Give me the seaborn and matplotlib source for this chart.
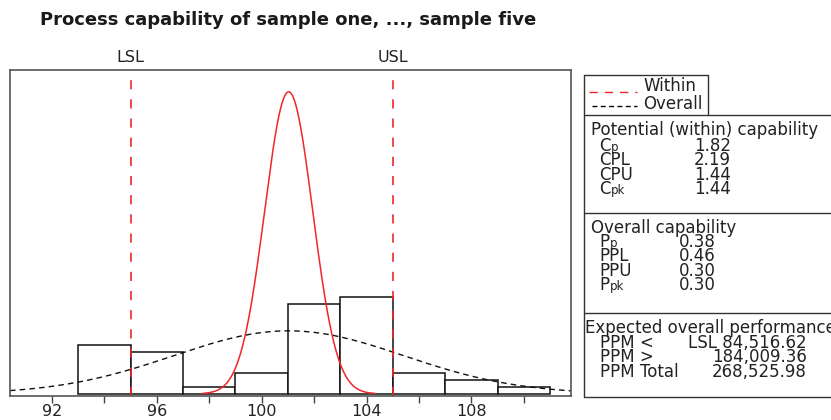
import numpy as np
import pandas as pd
import matplotlib
matplotlib.use("Agg")
import matplotlib.pyplot as plt
from matplotlib.lines import Line2D
import seaborn as sns

# ---- data ----
bin_edges = [93, 95, 97, 99, 101, 103, 105, 107, 109, 111]
bin_mids = [94, 96, 98, 100, 102, 104, 106, 108, 110]
counts = [7, 6, 1, 3, 13, 14, 3, 2, 1]
LSL, USL = 95, 105
mean_proc = 101.03
sigma_within = 0.916
sigma_overall = 4.386
x_ticks_major = [92, 96, 100, 104, 108]
x_ticks_minor = [94, 98, 102, 106, 110]

within_rows = [("C", "p", "1.82"), ("CPL", "", "2.19"), ("CPU", "", "1.44"), ("C", "pk", "1.44")]
overall_rows = [("P", "p", "0.38"), ("PPL", "", "0.46"), ("PPU", "", "0.30"), ("P", "pk", "0.30")]
ppm_rows = [("PPM <", "LSL 84,516.62"), ("PPM >", "184,009.36"), ("PPM Total", "268,525.98")]

sns.set_theme(style="white")
plt.rcParams['font.family'] = ['DejaVu Sans']

RED = "#f0262a"
TXT = "#222222"
W, H = 831, 420
fig = plt.figure(figsize=(W / 100, H / 100), dpi=100)
ax = fig.add_axes([10 / W, 1 - 396 / H, (571 - 10) / W, (396 - 70) / H])

hist_df = pd.DataFrame({"x": bin_mids, "w": counts})
sns.histplot(data=hist_df, x="x", weights="w", bins=bin_edges, stat="density",
             color="white", edgecolor="#111111", linewidth=1.1, alpha=1.0, ax=ax)

xs = np.linspace(90.4, 111.8, 600)
overall = np.exp(-0.5 * ((xs - mean_proc) / sigma_overall) ** 2) / (sigma_overall * np.sqrt(2 * np.pi))
sns.lineplot(x=xs, y=overall, ax=ax, color="#111111", linestyle=(0, (4, 3)), linewidth=1.0)

xw = np.linspace(mean_proc - 3.6 * sigma_within, mean_proc + 3.6 * sigma_within, 400)
within = np.exp(-0.5 * ((xw - mean_proc) / sigma_within) ** 2) / (sigma_within * np.sqrt(2 * np.pi))
sns.lineplot(x=xw, y=within, ax=ax, color=RED, linewidth=1.1)

for v in (LSL, USL):
    ax.axvline(v, color=RED, linestyle=(0, (5.5, 6)), linewidth=1.2)

ax.set_xlim(90.4, 111.8)
ax.set_ylim(-0.003, 0.467)
ax.set_xticks(x_ticks_major)
ax.set_xticks(x_ticks_minor, minor=True)
ax.set_xticklabels([str(t) for t in x_ticks_major], fontsize=11.5, color=TXT)
ax.set_yticks([])
ax.set_xlabel("")
ax.set_ylabel("")
ax.tick_params(axis="x", which="both", direction="out", length=5, width=1, color="#444444",
               bottom=True, pad=0.5)
for s in ax.spines.values():
    s.set_color("#555555")
    s.set_linewidth(1.2)

# LSL / USL labels
for v, lab in ((LSL, "LSL"), (USL, "USL")):
    ax.text(v, 1.015, lab, transform=ax.get_xaxis_transform(), ha="center", va="bottom",
            fontsize=11.5, color=TXT)

# title
fig.text(288 / W, 1 - 20 / H, "Process capability of sample one, ..., sample five",
         ha="center", va="center", fontsize=13, fontweight="bold", color="#1a1a1a")

# ---- right panel ----
def fx(px):
    return px / W

def fy(py):
    return 1 - py / H

def hline(x0, x1, y, **kw):
    fig.add_artist(Line2D([fx(x0), fx(x1)], [fy(y), fy(y)], transform=fig.transFigure,
                          color=kw.get("color", "#333333"), linewidth=kw.get("lw", 1.0),
                          linestyle=kw.get("ls", "-")))

def vline(x, y0, y1):
    fig.add_artist(Line2D([fx(x), fx(x)], [fy(y0), fy(y1)], transform=fig.transFigure,
                          color="#333333", linewidth=1.0))

fs = 12

# legend box
hline(584, 708, 75)
vline(584, 75, 115)
vline(708, 75, 115)
hline(589, 637, 92, color=RED, ls=(0, (6, 5)))
hline(592, 637, 106, color="black", ls=(0, (3.5, 2.5)))
fig.text(fx(643), fy(86), "Within", fontsize=fs, va="center", ha="left", color=TXT)
fig.text(fx(643), fy(104), "Overall", fontsize=fs, va="center", ha="left", color=TXT)

# stats box
hline(584, 840, 115)
vline(584, 115, 397)
hline(584, 840, 213)
hline(584, 840, 313)
hline(584, 840, 397)

renderer = fig.canvas.get_renderer()

def row_text(x, y, s, **kw):
    # y is the baseline position in pixels from top
    return fig.text(fx(x), fy(y), s, fontsize=kw.get("size", fs), va="baseline",
                    ha=kw.get("ha", "left"), color=TXT)

def sub_label(x, y, base, sub):
    t = row_text(x, y, base)
    if sub:
        bb = t.get_window_extent(renderer=renderer)
        row_text(x + bb.width + 0.5, y, sub, size=8.5)

BASE_OFF = 5  # baseline below row center

row_text(591, 130 + BASE_OFF, "Potential (within) capability")
for i, (b, s, v) in enumerate(within_rows):
    y = 146 + i * 14.3 + BASE_OFF
    sub_label(599, y, b, s)
    row_text(694, y, v)

row_text(591, 228 + BASE_OFF, "Overall capability")
for i, (b, s, v) in enumerate(overall_rows):
    y = 242 + i * 14.3 + BASE_OFF
    sub_label(599, y, b, s)
    row_text(679, y, v)

row_text(585, 328 + BASE_OFF, "Expected overall performance")
for i, (lab, v) in enumerate(ppm_rows):
    y = 343 + i * 14.3 + BASE_OFF
    row_text(600, y, lab)
    row_text(807, y, v, ha="right")

fig.savefig("out.png", dpi=100)
